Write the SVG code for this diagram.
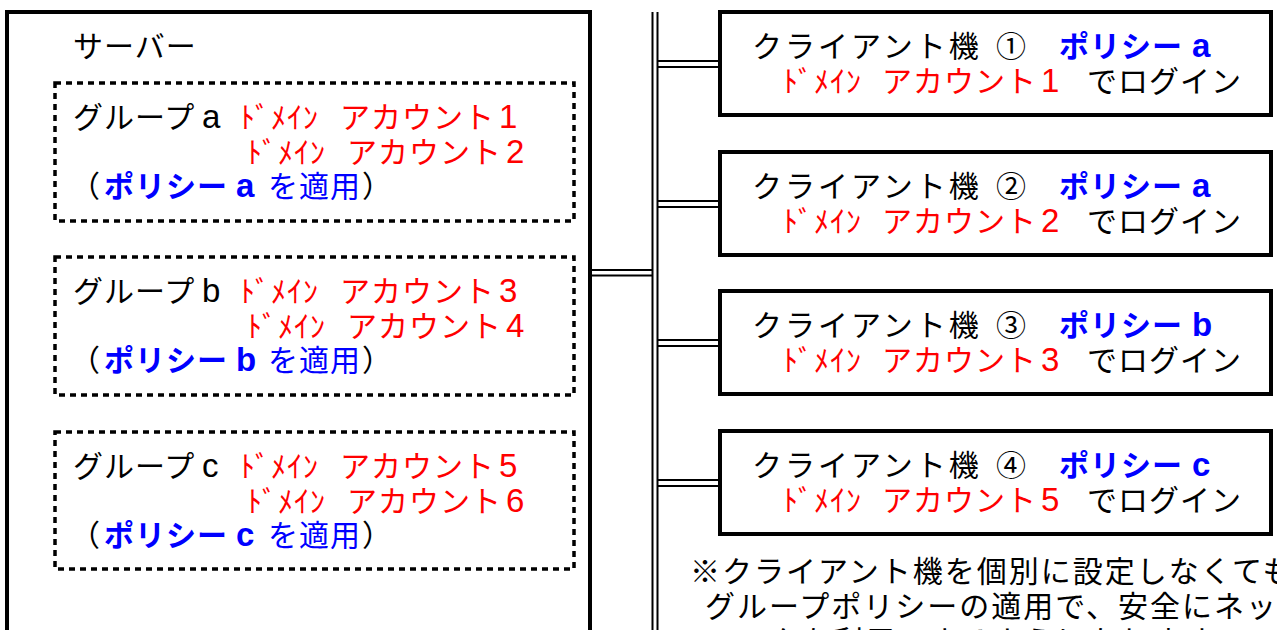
<svg xmlns="http://www.w3.org/2000/svg" width="1277" height="630" viewBox="0 0 1277 630">
<style>
text{font-family:"Liberation Sans","Noto Sans CJK JP",sans-serif;font-size:30px;letter-spacing:1px;fill:#000}
.r{fill:#ff0000}
.b{fill:#0000ff}
.bb{fill:#0000ff;font-weight:bold}
.d{font-size:33px}
.w{letter-spacing:3px}
.n{letter-spacing:2px}
.box{fill:#fff;stroke:#000;stroke-width:4}
.grp{fill:none;stroke:#000;stroke-width:3.5;stroke-dasharray:6 5}
.ln{stroke:#000;stroke-width:2;fill:none}
</style>
<rect width="1277" height="630" fill="#fff"/>
<g id="server">
<rect class="box" x="7" y="12" width="583" height="700"/>
<text x="73" y="57">サーバー</text>
</g>
<g id="group-a">
<rect class="grp" x="55" y="83" width="519" height="138"/>
<text y="128"><tspan x="73">グループ</tspan><tspan class="d" x="202">a</tspan><tspan class="r" x="240">ﾄﾞﾒｲﾝ</tspan><tspan class="r" x="340">アカウント</tspan><tspan class="r d" dx="4">1</tspan></text>
<text y="163"><tspan class="r" x="247">ﾄﾞﾒｲﾝ</tspan><tspan class="r" x="347">アカウント</tspan><tspan class="r d" dx="4">2</tspan></text>
<text y="197"><tspan x="70">（</tspan><tspan class="bb" x="104">ポリシー</tspan><tspan class="bb d" x="236">a</tspan><tspan class="b" x="268">を適用</tspan><tspan x="362">）</tspan></text>
</g>
<g id="group-b">
<rect class="grp" x="55" y="257" width="519" height="138"/>
<text y="302"><tspan x="73">グループ</tspan><tspan class="d" x="202">b</tspan><tspan class="r" x="240">ﾄﾞﾒｲﾝ</tspan><tspan class="r" x="340">アカウント</tspan><tspan class="r d" dx="4">3</tspan></text>
<text y="337"><tspan class="r" x="247">ﾄﾞﾒｲﾝ</tspan><tspan class="r" x="347">アカウント</tspan><tspan class="r d" dx="4">4</tspan></text>
<text y="371"><tspan x="70">（</tspan><tspan class="bb" x="104">ポリシー</tspan><tspan class="bb d" x="236">b</tspan><tspan class="b" x="268">を適用</tspan><tspan x="362">）</tspan></text>
</g>
<g id="group-c">
<rect class="grp" x="55" y="432" width="519" height="137"/>
<text y="477"><tspan x="73">グループ</tspan><tspan class="d" x="202">c</tspan><tspan class="r" x="240">ﾄﾞﾒｲﾝ</tspan><tspan class="r" x="340">アカウント</tspan><tspan class="r d" dx="4">5</tspan></text>
<text y="512"><tspan class="r" x="247">ﾄﾞﾒｲﾝ</tspan><tspan class="r" x="347">アカウント</tspan><tspan class="r d" dx="4">6</tspan></text>
<text y="546"><tspan x="70">（</tspan><tspan class="bb" x="104">ポリシー</tspan><tspan class="bb d" x="236">c</tspan><tspan class="b" x="268">を適用</tspan><tspan x="362">）</tspan></text>
</g>
<g id="connectors">
<line class="ln" x1="652.5" y1="12" x2="652.5" y2="640"/>
<line class="ln" x1="657.5" y1="12" x2="657.5" y2="640"/>
<line class="ln" x1="592" y1="270" x2="652" y2="270"/>
<line class="ln" x1="592" y1="275.5" x2="652" y2="275.5"/>
<line class="ln" x1="658" y1="61" x2="719" y2="61"/>
<line class="ln" x1="658" y1="67" x2="719" y2="67"/>
<line class="ln" x1="658" y1="201" x2="719" y2="201"/>
<line class="ln" x1="658" y1="207" x2="719" y2="207"/>
<line class="ln" x1="658" y1="340" x2="719" y2="340"/>
<line class="ln" x1="658" y1="346" x2="719" y2="346"/>
<line class="ln" x1="658" y1="480" x2="719" y2="480"/>
<line class="ln" x1="658" y1="486" x2="719" y2="486"/>
</g>
<g id="client-1">
<rect class="box" x="720" y="12" width="551" height="103"/>
<text y="57"><tspan class="w" x="752">クライアント機</tspan><tspan x="996">①</tspan><tspan class="bb" x="1059">ポリシー</tspan><tspan class="bb d" x="1192">a</tspan></text>
<text y="92"><tspan class="r" x="783">ﾄﾞﾒｲﾝ</tspan><tspan class="r" x="882">アカウント</tspan><tspan class="r d" dx="4">1</tspan><tspan x="1087">でログイン</tspan></text>
</g>
<g id="client-2">
<rect class="box" x="720" y="152" width="551" height="103"/>
<text y="197"><tspan class="w" x="752">クライアント機</tspan><tspan x="996">②</tspan><tspan class="bb" x="1059">ポリシー</tspan><tspan class="bb d" x="1192">a</tspan></text>
<text y="232"><tspan class="r" x="783">ﾄﾞﾒｲﾝ</tspan><tspan class="r" x="882">アカウント</tspan><tspan class="r d" dx="4">2</tspan><tspan x="1087">でログイン</tspan></text>
</g>
<g id="client-3">
<rect class="box" x="720" y="291" width="551" height="103"/>
<text y="336"><tspan class="w" x="752">クライアント機</tspan><tspan x="996">③</tspan><tspan class="bb" x="1059">ポリシー</tspan><tspan class="bb d" x="1192">b</tspan></text>
<text y="371"><tspan class="r" x="783">ﾄﾞﾒｲﾝ</tspan><tspan class="r" x="882">アカウント</tspan><tspan class="r d" dx="4">3</tspan><tspan x="1087">でログイン</tspan></text>
</g>
<g id="client-4">
<rect class="box" x="720" y="431" width="551" height="103"/>
<text y="476"><tspan class="w" x="752">クライアント機</tspan><tspan x="996">④</tspan><tspan class="bb" x="1059">ポリシー</tspan><tspan class="bb d" x="1192">c</tspan></text>
<text y="511"><tspan class="r" x="783">ﾄﾞﾒｲﾝ</tspan><tspan class="r" x="882">アカウント</tspan><tspan class="r d" dx="4">5</tspan><tspan x="1087">でログイン</tspan></text>
</g>
<g id="note">
<text class="n" x="690" y="582">※クライアント機を個別に設定しなくても</text>
<text class="n" x="705" y="617">グループポリシーの適用で、安全にネット</text>
<text class="n" x="705" y="652">ワークを利用できるようになります。</text>
</g>
</svg>
